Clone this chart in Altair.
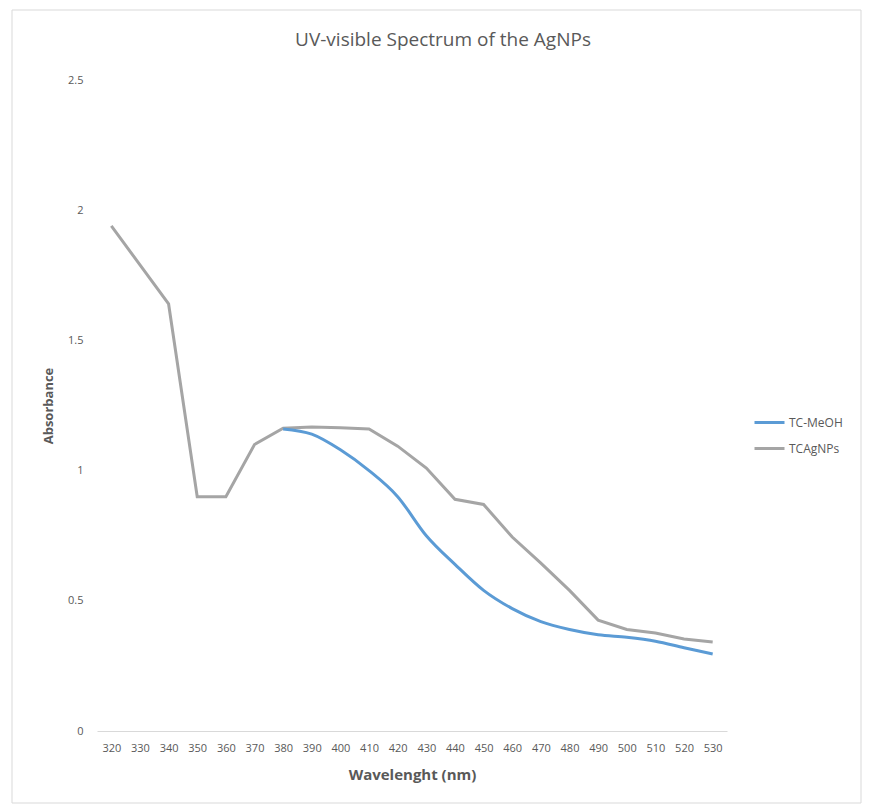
import altair as alt
import pandas as pd

wavelengths = [320, 330, 340, 350, 360, 370, 380, 390, 400, 410, 420,
               430, 440, 450, 460, 470, 480, 490, 500, 510, 520, 530]
tcagnps = [1.94, 1.79, 1.64, 0.90, 0.90, 1.10, 1.163, 1.167, 1.165, 1.16, 1.094,
           1.01, 0.89, 0.87, 0.745, 0.645, 0.54, 0.426, 0.39, 0.376, 0.353, 0.342]
meoh_wl = [380, 390, 400, 410, 420, 430, 440, 450, 460, 470, 480, 490, 500, 510, 520, 530]
tc_meoh = [1.16, 1.14, 1.08, 1.00, 0.90, 0.75, 0.64, 0.54, 0.47, 0.42, 0.39, 0.37,
           0.36, 0.345, 0.32, 0.296]
series_names = ["TC-MeOH", "TCAgNPs"]
colors = ["#5B9BD5", "#A5A5A5"]
y_ticks = [0, 0.5, 1, 1.5, 2, 2.5]
title_text = "UV-visible Spectrum of the AgNPs"

rows = []
for w, v in zip(meoh_wl, tc_meoh):
    rows.append({"Wavelength": str(w), "Absorbance": v, "Series": "TC-MeOH"})
for w, v in zip(wavelengths, tcagnps):
    rows.append({"Wavelength": str(w), "Absorbance": v, "Series": "TCAgNPs"})
df = pd.DataFrame(rows)

W, H = 630, 651
FONT = "Open Sans"
GREY = "#595959"

x_enc = alt.X("Wavelength:N", sort=[str(w) for w in wavelengths],
              scale=alt.Scale(type="point", padding=0.5),
              axis=alt.Axis(title="Wavelenght (nm)", labelAngle=0, ticks=False,
                            domainColor="#d9d9d9", domainWidth=1,
                            labelColor=GREY, labelFontSize=11, labelPadding=11,
                            titleColor=GREY, titleFontSize=15, titleFontWeight="bold",
                            titlePadding=14, labelFont=FONT, titleFont=FONT))
y_enc = alt.Y("Absorbance:Q",
              scale=alt.Scale(domain=[0, 2.5], nice=False),
              axis=alt.Axis(title="Absorbance", values=y_ticks, labelExpr="datum.value",
                            grid=False, domain=False, ticks=False,
                            labelColor=GREY, labelFontSize=11, labelPadding=14,
                            titleColor=GREY, titleFontSize=13, titleFontWeight="bold",
                            titlePadding=12, labelFont=FONT, titleFont=FONT))
color_enc = alt.Color("Series:N",
                      scale=alt.Scale(domain=series_names, range=colors),
                      legend=alt.Legend(title=None, orient="none", legendX=656, legendY=326,
                                        symbolType="stroke", symbolStrokeWidth=3,
                                        symbolSize=900, labelColor=GREY,
                                        labelFontSize=12, labelFont=FONT,
                                        labelOffset=3, rowPadding=3))

gray = alt.Chart(df).transform_filter(alt.datum.Series == "TCAgNPs").mark_line(
    strokeWidth=3, interpolate="linear").encode(x=x_enc, y=y_enc, color=color_enc)
blue = alt.Chart(df).transform_filter(alt.datum.Series == "TC-MeOH").mark_line(
    strokeWidth=3, interpolate="monotone").encode(x=x_enc, y=y_enc, color=color_enc)

frame = alt.Chart(pd.DataFrame({"a": [0]})).mark_rect(
    fill=None, stroke="#d9d9d9", strokeWidth=1).encode(
    x=alt.value(-85), x2=alt.value(764), y=alt.value(-70), y2=alt.value(723))

title = alt.Chart(pd.DataFrame({"t": [title_text]})).mark_text(
    font=FONT, fontSize=19, color=GREY, align="center", baseline="middle").encode(
    text="t:N", x=alt.value(346), y=alt.value(-40))

chart = alt.layer(frame, title, gray, blue).properties(
    width=W, height=H,
    background="white",
    autosize=alt.AutoSizeParams(type="none"),
    padding={"left": 89, "top": 72, "right": 135, "bottom": 73},
).configure_view(strokeWidth=0, stroke="transparent")

chart.save("out.html", embed_options={"renderer": "svg", "actions": False})
